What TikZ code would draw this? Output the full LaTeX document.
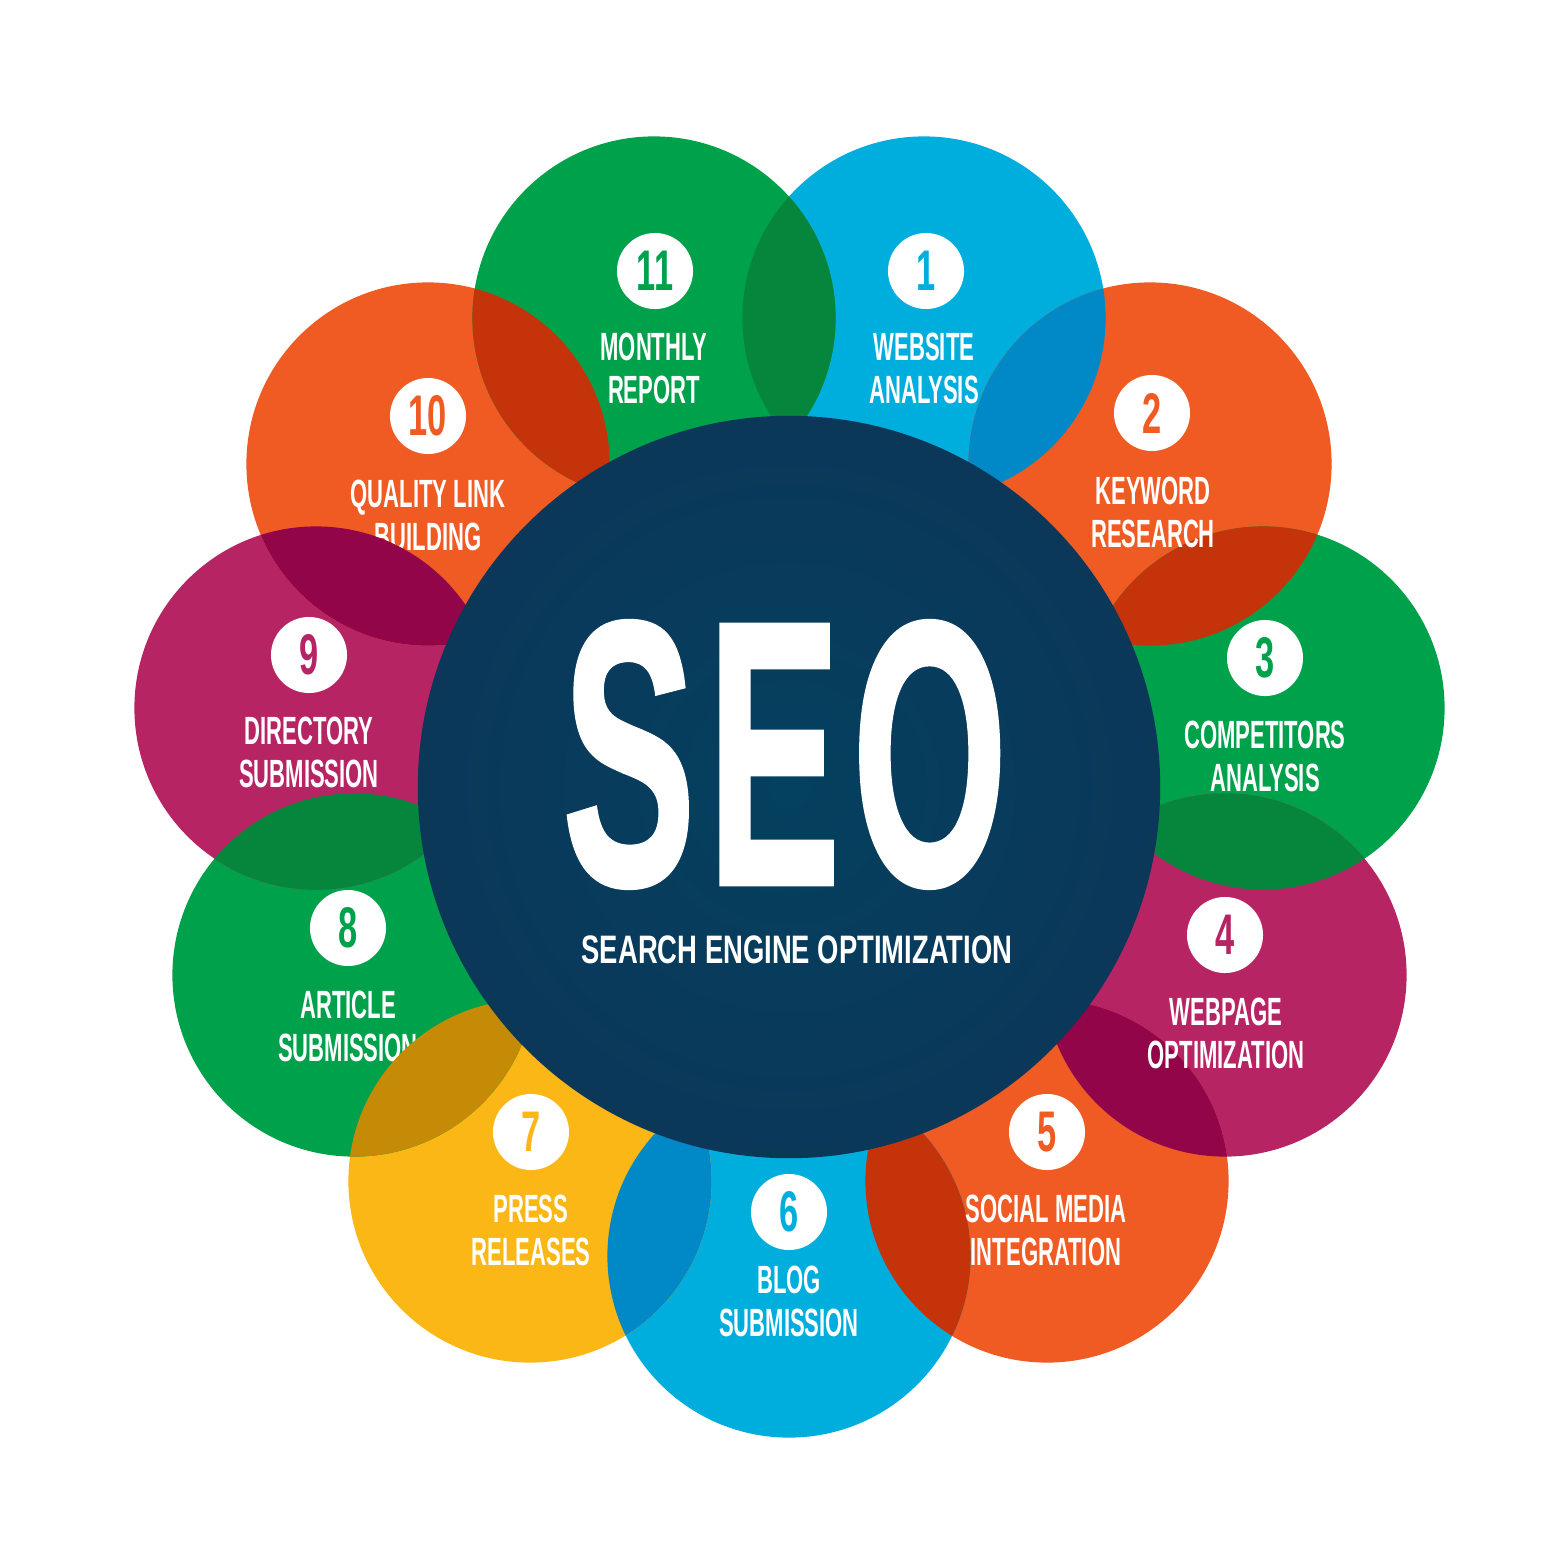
\documentclass[tikz,border=0pt]{standalone}
\usepackage{fontspec}
\setmainfont{Liberation Sans}
\newfontfamily\seofont[FakeBold=1.3]{Liberation Sans}
\usepackage{graphicx}
\definecolor{cgreen}{HTML}{00A14B}
\definecolor{cblue}{HTML}{00AEDE}
\definecolor{corange}{HTML}{F05A23}
\definecolor{cmagenta}{HTML}{B72464}
\definecolor{cyellow}{HTML}{FBB716}
\definecolor{dgreen}{HTML}{06853D}
\definecolor{dblue}{HTML}{0089C6}
\definecolor{dorange}{HTML}{C4330A}
\definecolor{dmagenta}{HTML}{920549}
\definecolor{dyellow}{HTML}{C58B07}
\definecolor{seoin}{HTML}{04405F}
\definecolor{seomid}{HTML}{0B3759}
\definecolor{seoout}{HTML}{14284E}
\pgfdeclareradialshading{seoshade}{\pgfpoint{0bp}{0bp}}{color(0bp)=(seoin); color(26bp)=(seomid); color(50bp)=(seoout)}
\newcommand{\condtxt}[1]{\scalebox{0.56}[1]{#1}}
\newcommand{\conddig}[1]{\scalebox{0.6}[1]{#1}}
\newcommand{\petalfill}[2]{\fill[#2] (#1) circle[radius=1.815cm];}
\newcommand{\lensfill}[3]{\begin{scope}\clip (#1) circle[radius=1.815cm];\fill[#3] (#2) circle[radius=1.815cm];\end{scope}}
\tikzset{
  numdisc/.style={circle, fill=white, minimum size=0.76cm, inner sep=0pt, font=\bfseries\fontsize{16.3}{16.3}\selectfont},
  lbltxt/.style={text=white, align=center, inner sep=0pt, font=\bfseries\fontsize{11.2}{12.2}\selectfont}
}
\begin{document}
\begin{tikzpicture}[x=0.01cm,y=-0.01cm]
\useasboundingbox (0,0) rectangle (1563,1563);
\fill[white] (0,0) rectangle (1563,1563);
\coordinate (p1) at (924,318);
\coordinate (p2) at (1150,464);
\coordinate (p3) at (1263,708);
\coordinate (p4) at (1225,975);
\coordinate (p5) at (1047,1181);
\coordinate (p6) at (789,1256);
\coordinate (p7) at (530,1181);
\coordinate (p8) at (354,975);
\coordinate (p9) at (316,708);
\coordinate (p10) at (428,464);
\coordinate (p11) at (654,318);
\coordinate (c0) at (789,787);
% petals
\petalfill{p1}{cblue}
\petalfill{p2}{corange}
\petalfill{p3}{cgreen}
\petalfill{p4}{cmagenta}
\petalfill{p5}{corange}
\petalfill{p6}{cblue}
\petalfill{p7}{cyellow}
\petalfill{p8}{cgreen}
\petalfill{p9}{cmagenta}
\petalfill{p10}{corange}
\petalfill{p11}{cgreen}
% labels partly covered by neighbours
\node[lbltxt] (t10) at (428,515) {\condtxt{QUALITY LINK}\\\condtxt{BUILDING}};
\node[lbltxt] (t8) at (348,1026) {\condtxt{ARTICLE}\\\condtxt{SUBMISSION}};
% overlaps
\lensfill{p11}{p1}{dgreen}
\lensfill{p1}{p2}{dblue}
\lensfill{p2}{p3}{dorange}
\lensfill{p3}{p4}{dgreen}
\lensfill{p4}{p5}{dmagenta}
\lensfill{p5}{p6}{dorange}
\lensfill{p6}{p7}{dblue}
\lensfill{p7}{p8}{dyellow}
\lensfill{p8}{p9}{dgreen}
\lensfill{p9}{p10}{dmagenta}
\lensfill{p10}{p11}{dorange}
% numbers
\node[numdisc, text=cblue] (n1) at (926,271) {\conddig{1}};
\node[numdisc, text=corange] (n2) at (1152,413) {\conddig{2}};
\node[numdisc, text=cgreen] (n3) at (1265,658) {\conddig{3}};
\node[numdisc, text=cmagenta] (n4) at (1225,935) {\conddig{4}};
\node[numdisc, text=corange] (n5) at (1047,1132) {\conddig{5}};
\node[numdisc, text=cblue] (n6) at (789,1212) {\conddig{6}};
\node[numdisc, text=cyellow] (n7) at (531,1132) {\conddig{7}};
\node[numdisc, text=cgreen] (n8) at (348,928) {\conddig{8}};
\node[numdisc, text=cmagenta] (n9) at (309,655) {\conddig{9}};
\node[numdisc, text=corange] (n10) at (428,416) {\conddig{10}};
\node[numdisc, text=cgreen] (n11) at (655,271) {\conddig{11}};
% labels
\node[lbltxt] (t1) at (924,368) {\condtxt{WEBSITE}\\\condtxt{ANALYSIS}};
\node[lbltxt] (t11) at (654,368) {\condtxt{MONTHLY}\\\condtxt{REPORT}};
\node[lbltxt] (t2) at (1153,512) {\condtxt{KEYWORD}\\\condtxt{RESEARCH}};
\node[lbltxt] (t3) at (1265,756) {\condtxt{COMPETITORS}\\\condtxt{ANALYSIS}};
\node[lbltxt] (t9) at (309,752) {\condtxt{DIRECTORY}\\\condtxt{SUBMISSION}};
\node[lbltxt] (t4) at (1226,1033) {\condtxt{WEBPAGE}\\\condtxt{OPTIMIZATION}};
\node[lbltxt] (t5) at (1046,1230) {\condtxt{SOCIAL MEDIA}\\\condtxt{INTEGRATION}};
\node[lbltxt] (t7) at (531,1230) {\condtxt{PRESS}\\\condtxt{RELEASES}};
\node[lbltxt] (t6) at (789,1301) {\condtxt{BLOG}\\\condtxt{SUBMISSION}};
% centre
\shade[shading=seoshade] (c0) circle[radius=3.71cm];
\node[text=white, anchor=base, inner sep=0pt, font=\seofont\bfseries\fontsize{107}{107}\selectfont] (seo) at (785,884) {\scalebox{0.53}[1]{S\kern0.06em E\kern0.06em O}};
\node[text=white, anchor=base, inner sep=0pt, font=\bfseries\fontsize{11.3}{11.3}\selectfont] (sub) at (797,963) {\scalebox{0.69}[1]{SEARCH ENGINE OPTIMIZATION}};
\end{tikzpicture}
\end{document}
